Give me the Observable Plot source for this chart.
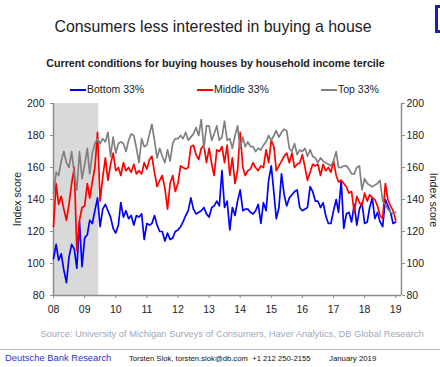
<!DOCTYPE html>
<html>
<head>
<meta charset="utf-8">
<script src="https://cdn.jsdelivr.net/npm/d3@7"></script>
<script src="https://cdn.jsdelivr.net/npm/@observablehq/plot@0.6"></script>
<style>
  html, body { margin: 0; padding: 0; background: #fff; }
  body { width: 440px; height: 367px; position: relative; overflow: hidden;
         font-family: "Liberation Sans", Arial, sans-serif; color: #222; }
  .abs { position: absolute; white-space: nowrap; }
  #title { left: 0; width: 426px; top: 19px; text-align: center; font-size: 15.9px; line-height: 16px; color: #222; }
  #subtitle { left: 0; width: 431px; top: 58px; text-align: center; font-size: 10.7px; line-height: 11px; font-weight: bold; color: #222; }
  .leg { top: 84px; font-size: 10.5px; line-height: 11px; display: flex; align-items: center; }
  .leg span.sw { display: inline-block; width: 16px; height: 2px; margin-right: 1px; }
  #chart { position: absolute; left: 0; top: 97px; }
  .ylab { font-size: 10.5px; line-height: 11px; }
  #source { left: 0; width: 464px; top: 329px; text-align: center; font-size: 9.35px; line-height: 10px; color: #a0a9ba; }
  #rule { position: absolute; left: 0; top: 349px; width: 440px; height: 1px; background: #b4bccb; }
  #dbr { left: 5px; top: 353px; font-size: 9.4px; line-height: 10px; color: #2b35c9; }
  #auth { left: 129px; top: 355px; font-size: 7.7px; line-height: 8px; color: #111; }
  #date { left: 329px; top: 355px; font-size: 7.8px; line-height: 8px; color: #111; }
  #logo { position: absolute; left: 435px; top: 5px; width: 14px; height: 22px; border: 3px solid #1b1fa3; }
</style>
</head>
<body>
<div id="logo"></div>
<div id="title" class="abs">Consumers less interested in buying a house</div>
<div id="subtitle" class="abs">Current conditions for buying houses by household income tercile</div>
<div id="legend"></div>
<div id="chart"></div>
<div class="abs ylab" style="left:17px; top:199px; transform: translate(-50%,-50%) rotate(-90deg);">Index score</div>
<div class="abs ylab" style="left:433px; top:200px; transform: translate(-50%,-50%) rotate(90deg);">Index score</div>
<div id="source" class="abs">Source: University of Michigan Surveys of Consumers, Haver Analytics, DB Global Research</div>
<div id="rule"></div>
<div id="dbr" class="abs">Deutsche Bank Research</div>
<div id="auth" class="abs">Torsten Slok, torsten.slok@db.com&nbsp;&nbsp;+1 212 250-2155</div>
<div id="date" class="abs">January 2019</div>
<script>
// Series names and colours
const seriesNames = ["Bottom 33%", "Middle 33%", "Top 33%"];
const seriesColors = ["#0000ff", "#ff0000", "#808080"];

// Monthly values, Jan 2008 .. Jan 2019
const bottom = [
103,112,102,106,96,88,104,112,109,97,126,98,
116,118,127,125,133,141,123,134,137,133,129,122,
119,124,138,129,133,128,130,124,130,129,131,115,
125,124,125,130,124,120,120,114,119,115,116,120,
121,123,126,130,133,141,134,131,132,133,135,131,
129,135,136,139,136,158,135,139,121,135,130,139,
146,133,134,134,132,131,133,137,125,138,133,152,
161,144,128,135,156,143,136,141,143,145,146,135,
133,134,135,148,145,139,139,135,138,130,125,125,
133,140,132,152,122,131,132,126,137,124,134,138,
125,126,135,141,128,132,126,123,140,136,132,125,
126];

const middle = [
123,150,137,142,134,127,137,150,160,108,127,135,
136,150,141,151,160,182,139,154,166,152,162,169,
158,160,155,163,158,160,157,162,156,158,156,163,
159,165,167,157,148,152,155,147,134,150,155,145,
150,161,160,159,160,173,174,168,165,172,174,163,
172,162,155,171,170,173,163,174,155,166,150,158,
182,160,155,158,159,163,160,158,161,160,171,163,
177,173,158,161,164,167,169,163,169,160,162,163,
168,160,152,157,162,161,162,155,162,158,160,157,
164,155,151,152,150,148,144,145,132,142,138,136,
144,139,143,141,140,136,130,128,150,140,136,133,
127];

const top3 = [
144,157,155,164,170,163,160,170,156,146,170,153,
162,172,156,169,175,178,175,178,176,182,167,179,
169,175,176,175,170,177,181,180,172,163,178,173,
174,181,187,177,166,172,167,163,171,164,175,178,
178,180,178,182,177,179,181,185,180,190,172,186,
186,177,181,186,177,179,189,177,178,172,180,186,
172,179,173,176,173,173,170,172,171,174,176,180,
177,180,183,179,182,184,183,172,170,175,168,171,
170,172,167,171,167,166,163,166,164,163,162,161,
164,170,160,160,161,161,159,156,156,160,161,146,
153,150,149,148,149,150,152,139,137,134,132,131,
132];

const yTicks = [80, 100, 120, 140, 160, 180, 200];
const yearTicks = d3.utcYears(new Date(Date.UTC(2008,0,1)), new Date(Date.UTC(2020,0,1)));
const xDomain = [new Date(Date.UTC(2008,0,1)), new Date(Date.UTC(2019,2,10))];
const recession = [{start: new Date(Date.UTC(2008,0,1)), end: new Date(Date.UTC(2009,5,15))}];

const months = d3.utcMonths(new Date(Date.UTC(2008,0,1)), new Date(Date.UTC(2019,1,1)));
const rows = months.map((d, i) => ({date: d, bottom: bottom[i], middle: middle[i], top: top3[i]}));

// Legend
const legend = document.getElementById("legend");
const legX = [70, 197, 321];
seriesNames.forEach((n, i) => {
  const el = document.createElement("div");
  el.className = "abs leg";
  el.style.left = legX[i] + "px";
  el.innerHTML = `<span class="sw" style="background:${seriesColors[i]}"></span>${n}`;
  legend.appendChild(el);
});

const axisGray = "#8c8c8c";
const chart = Plot.plot({
  width: 440,
  height: 223,
  marginTop: 6,
  marginBottom: 25,
  marginLeft: 53,
  marginRight: 39,
  style: {fontFamily: '"Liberation Sans", Arial, sans-serif', fontSize: "10.5px", background: "transparent", color: "#222"},
  x: {type: "utc", domain: xDomain},
  y: {domain: [80, 200]},
  marks: [
    Plot.rect(recession, {x1: "start", x2: "end", y1: 80, y2: 200, fill: "#d9d9d9"}),
    Plot.axisY({ticks: yTicks, anchor: "left", tickSize: 3, tickPadding: 6, label: null, stroke: axisGray, fill: "#222"}),
    Plot.axisY({ticks: yTicks, anchor: "right", tickSize: 3, tickPadding: 2, label: null, stroke: axisGray, fill: "#222"}),
    Plot.axisX({ticks: yearTicks, tickFormat: d3.utcFormat("%y"), tickSize: 3, tickPadding: 7, label: null, stroke: axisGray, fill: "#222"}),
    Plot.ruleX([xDomain[0], xDomain[1]], {stroke: axisGray, strokeWidth: 1.5}),
    Plot.ruleY([80], {stroke: axisGray, strokeWidth: 1.5}),
    Plot.lineY(rows, {x: "date", y: "bottom", stroke: seriesColors[0], strokeWidth: 1.7}),
    Plot.lineY(rows, {x: "date", y: "middle", stroke: seriesColors[1], strokeWidth: 1.7}),
    Plot.lineY(rows, {x: "date", y: "top", stroke: seriesColors[2], strokeWidth: 1.7})
  ]
});
document.getElementById("chart").appendChild(chart);
</script>
</body>
</html>
